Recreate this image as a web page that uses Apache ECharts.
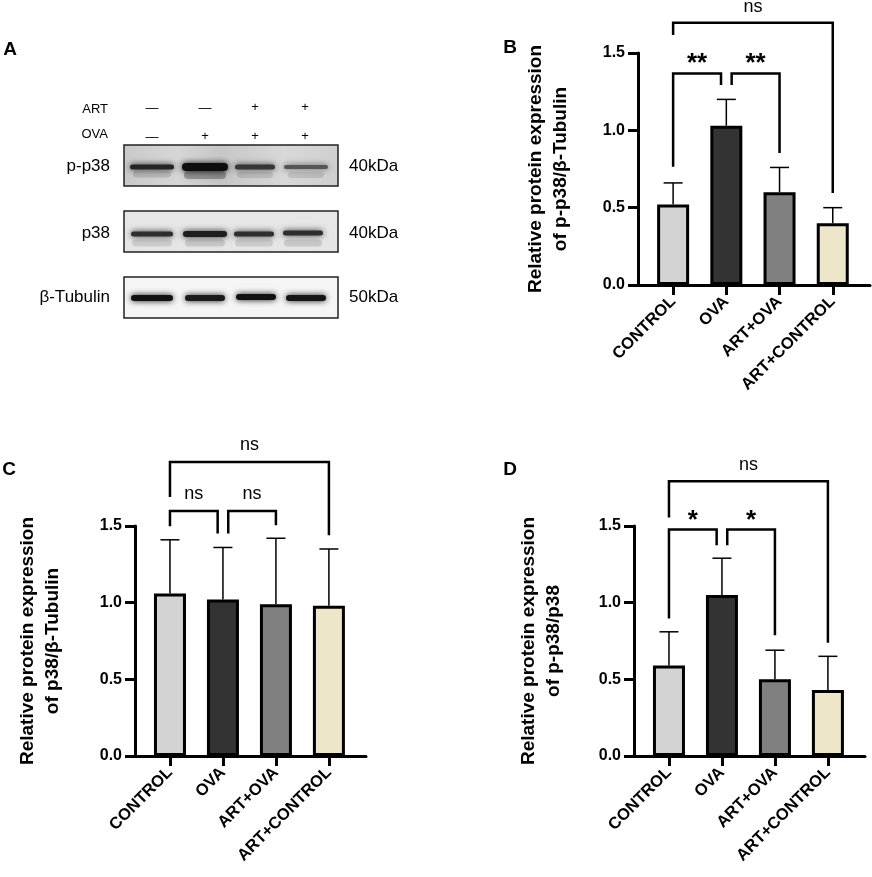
<!DOCTYPE html>
<html>
<head>
<meta charset="utf-8">
<script src="https://cdn.jsdelivr.net/npm/echarts@6/dist/echarts.min.js"></script>
<style>
html, body { margin: 0; padding: 0; background: #fff; }
#main { width: 872px; height: 877px; }
</style>
</head>
<body>
<div id="main"></div>
<script>
// groups and tick labels
var categories = ['CONTROL', 'OVA', 'ART+OVA', 'ART+CONTROL'];
var barColors = ['#d3d3d3', '#333333', '#808080', '#ede6c9'];
var yTicks = [0, 0.5, 1.0, 1.5];

// B: p-p38/β-Tubulin  (mean, upper SD)
var meanB = [0.52, 1.03, 0.60, 0.40];
var sdB = [0.14, 0.17, 0.16, 0.10];
// C: p38/β-Tubulin
var meanC = [1.06, 1.02, 0.99, 0.98];
var sdC = [0.35, 0.34, 0.43, 0.37];
// D: p-p38/p38
var meanD = [0.59, 1.05, 0.50, 0.43];
var sdD = [0.22, 0.24, 0.19, 0.22];

// brackets: [x from, x to, left foot, top, right foot, label y]
var bracketsB = [[0, 3, 1.616, 1.696, 0.595, 1.80], [0, 0.9, 0.765, 1.368, 1.293, 1.47], [1.1, 2, 1.293, 1.368, 0.853, 1.47]];
var labelsB = ['ns', '**', '**'];
var bracketsC = [[0, 3, 1.689, 1.917, 1.44, 2.03], [0, 0.9, 1.498, 1.598, 1.451, 1.711], [1.1, 2, 1.451, 1.598, 1.505, 1.711]];
var labelsC = ['ns', 'ns', 'ns'];
var bracketsD = [[0, 3, 1.555, 1.792, 0.738, 1.896], [0, 0.9, 0.897, 1.477, 1.375, 1.57], [1.1, 2, 1.375, 1.477, 0.788, 1.57]];
var labelsD = ['ns', '*', '*'];

var myChart = echarts.init(document.getElementById('main'));

function errorItem(params, api) {
  var x = api.value(0), m = api.value(1), e = api.value(2);
  var b = api.coord([x, m]), t = api.coord([x, m + e]);
  var st = { stroke: '#000', lineWidth: 1.5 };
  return { type: 'group', children: [
    { type: 'line', shape: { x1: b[0], y1: b[1], x2: t[0], y2: t[1] }, style: st },
    { type: 'line', shape: { x1: t[0] - 9.5, y1: t[1], x2: t[0] + 9.5, y2: t[1] }, style: st }
  ] };
}

function bracketRenderer(labels) {
  return function (params, api) {
    var x1 = api.value(0), x2 = api.value(1);
    var p1 = api.coord([x1, api.value(2)]), p2 = api.coord([x1, api.value(3)]);
    var p3 = api.coord([x2, api.value(3)]), p4 = api.coord([x2, api.value(4)]);
    var lp = api.coord([(x1 + x2) / 2, api.value(5)]);
    var txt = labels[params.dataIndex];
    var star = txt.indexOf('*') >= 0;
    return { type: 'group', children: [
      { type: 'polyline', shape: { points: [p1, p2, p3, p4] }, style: { stroke: '#000', lineWidth: 2.5, fill: null } },
      { type: 'text', x: lp[0], y: lp[1] + (star ? 6 : 0), style: {
        text: txt, align: 'center', verticalAlign: 'middle', fill: '#000',
        font: (star ? 'bold 26px' : '18px') + ' Arial, "Liberation Sans", sans-serif' } }
    ] };
  };
}

var grids = [
  { left: 638, top: 53, width: 232, height: 232 },
  { left: 135, top: 526, width: 231, height: 230 },
  { left: 634, top: 526, width: 231, height: 230 }
];
var yNames = [
  'Relative protein expression\nof p-p38/β-Tubulin',
  'Relative protein expression\nof p38/β-Tubulin',
  'Relative protein expression\nof p-p38/p38'
];
var nameGaps = [65, 70, 68];
var font = 'Arial, "Liberation Sans", sans-serif';
var xAxes = [], yAxes = [], series = [];
var panels = [[meanB, sdB, bracketsB, labelsB], [meanC, sdC, bracketsC, labelsC], [meanD, sdD, bracketsD, labelsD]];

panels.forEach(function (p, i) {
  var tickVals = categories.map(function (c, k) { return k; });
  xAxes.push({
    type: 'value', gridIndex: i, min: -0.66, max: 3.7,
    axisLine: { onZero: false, lineStyle: { color: '#000', width: 3 } },
    axisTick: { customValues: tickVals, length: 10, lineStyle: { color: '#000', width: 3 } },
    axisLabel: { customValues: tickVals, rotate: 45, margin: 14, color: '#000', fontWeight: 'bold', fontSize: 16.5, fontFamily: font,
      formatter: function (v) { return categories[Math.round(v)]; } },
    splitLine: { show: false }
  });
  yAxes.push({
    type: 'value', gridIndex: i, min: yTicks[0], max: yTicks[yTicks.length - 1], interval: 0.5,
    name: yNames[i], nameLocation: 'middle', nameGap: nameGaps[i],
    nameTextStyle: { color: '#000', fontWeight: 'bold', fontSize: 19, lineHeight: 25, fontFamily: font },
    axisLine: { show: true, onZero: false, lineStyle: { color: '#000', width: 3 } },
    axisTick: { show: true, length: 10, lineStyle: { color: '#000', width: 3 } },
    axisLabel: { margin: 13, color: '#000', fontWeight: 'bold', fontSize: 16, fontFamily: font,
      formatter: function (v) { return v.toFixed(1); } },
    splitLine: { show: false }
  });
  series.push({
    type: 'bar', xAxisIndex: i, yAxisIndex: i, barWidth: 32, silent: true,
    data: p[0].map(function (v, k) {
      return { value: [k, v], itemStyle: { color: barColors[k], borderColor: '#000', borderWidth: 3 } };
    })
  });
  series.push({
    type: 'custom', xAxisIndex: i, yAxisIndex: i, clip: false, silent: true, z: 1,
    renderItem: errorItem,
    data: p[0].map(function (v, k) { return [k, v, p[1][k]]; })
  });
  series.push({
    type: 'custom', xAxisIndex: i, yAxisIndex: i, clip: false, silent: true, z: 5,
    renderItem: bracketRenderer(p[3]),
    encode: { x: [0, 1], y: [2, 3, 4] },
    data: p[2]
  });
});

// panel A: western blot picture
var lanes = [152, 205, 255, 305];
var artMarks = ['—', '—', '+', '+'];
var ovaMarks = ['—', '+', '+', '+'];
var rowNames = ['p-p38', 'p38', 'β-Tubulin'];
var kdaNames = ['40kDa', '40kDa', '50kDa'];
var boxTops = [145, 211, 277];
var rowY = [166, 233, 297];

var g = [];
[['A', 10, 50], ['B', 510, 48], ['C', 9, 470], ['D', 510, 470]].forEach(function (l) {
  g.push({ type: 'text', x: l[1], y: l[2], style: { text: l[0], align: 'center', verticalAlign: 'middle', font: 'bold 19px ' + font, fill: '#000' } });
});
g.push({ type: 'text', x: 108, y: 109, style: { text: 'ART', align: 'right', verticalAlign: 'middle', font: '13px ' + font, fill: '#000' } });
g.push({ type: 'text', x: 108, y: 134, style: { text: 'OVA', align: 'right', verticalAlign: 'middle', font: '13px ' + font, fill: '#000' } });
lanes.forEach(function (x, k) {
  g.push({ type: 'text', x: x, y: artMarks[k] === '+' ? 107 : 108, style: { text: artMarks[k], align: 'center', verticalAlign: 'middle', font: '13px ' + font, fill: '#000' } });
  g.push({ type: 'text', x: x, y: ovaMarks[k] === '+' ? 136 : 137, style: { text: ovaMarks[k], align: 'center', verticalAlign: 'middle', font: '13px ' + font, fill: '#000' } });
});
var boxFills = [
  new echarts.graphic.LinearGradient(0, 0, 1, 0, [{ offset: 0, color: '#c9c9c9' }, { offset: 0.25, color: '#d6d6d6' }, { offset: 0.45, color: '#c6c6c6' }, { offset: 0.75, color: '#d8d8d8' }, { offset: 1, color: '#cfcfcf' }]),
  '#e6e6e6', '#f5f5f5'
];
rowNames.forEach(function (n, r) {
  g.push({ type: 'rect', shape: { x: 124, y: boxTops[r], width: 214, height: 41 }, style: { fill: boxFills[r], stroke: '#222', lineWidth: 1.5 } });
  g.push({ type: 'text', x: 110, y: rowY[r], style: { text: n, align: 'right', verticalAlign: 'middle', font: '17px ' + font, fill: '#000' } });
  g.push({ type: 'text', x: 349, y: rowY[r], style: { text: kdaNames[r], align: 'left', verticalAlign: 'middle', font: '17px ' + font, fill: '#000' } });
});
// bands: [cx, cy, w, h, colour]
var bands = [
  [152, 174, 38, 7, 'rgba(0,0,0,0.12)'], [205, 175, 42, 8, 'rgba(0,0,0,0.28)'], [255, 175, 36, 6, 'rgba(0,0,0,0.1)'], [306, 175, 36, 6, 'rgba(0,0,0,0.1)'],
  [152, 167, 44, 5, '#262626'], [205, 167, 46, 8, '#0d0d0d'], [255, 167, 40, 5, '#363636'], [306, 167, 44, 4, '#555'],
  [152, 243, 40, 7, 'rgba(0,0,0,0.1)'], [205, 243, 40, 7, 'rgba(0,0,0,0.12)'], [254, 243, 38, 7, 'rgba(0,0,0,0.1)'], [303, 243, 38, 7, 'rgba(0,0,0,0.12)'],
  [152, 234, 42, 5, '#2e2e2e'], [205, 234, 44, 6, '#1e1e1e'], [254, 234, 40, 5, '#2e2e2e'], [303, 233, 40, 5, '#2e2e2e'],
  [152, 298, 42, 6, '#111'], [205, 298, 40, 6, '#1a1a1a'], [256, 297, 40, 6, '#111'], [306, 298, 40, 6, '#151515']
];
bands.forEach(function (b) {
  g.push({ type: 'rect', shape: { x: b[0] - b[2] / 2, y: b[1] - b[3] / 2, width: b[2], height: b[3], r: b[3] / 2 },
    style: { fill: b[4], shadowBlur: 6, shadowColor: b[4] } });
});

var option = {
  backgroundColor: '#fff',
  animation: false,
  grid: grids,
  xAxis: xAxes,
  yAxis: yAxes,
  series: series,
  graphic: { elements: g }
};
myChart.setOption(option);
</script>
</body>
</html>
